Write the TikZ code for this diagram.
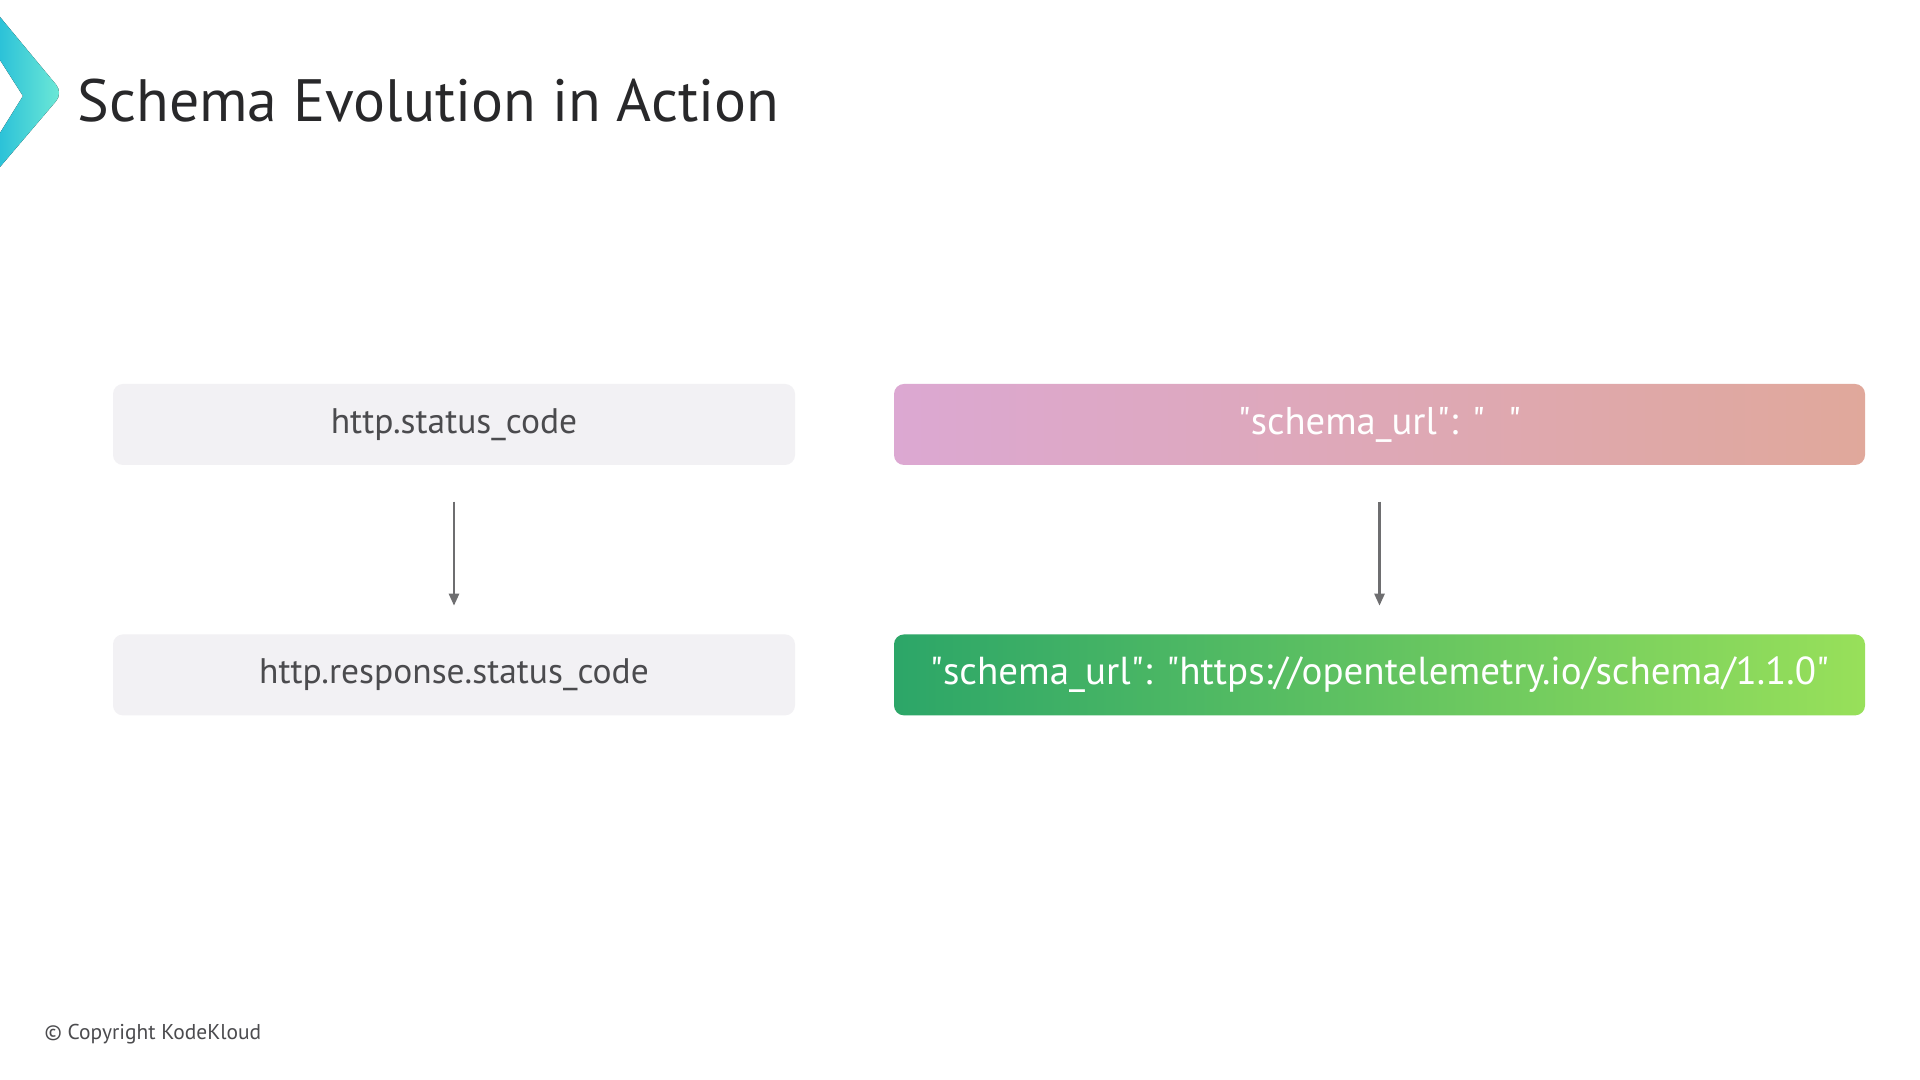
\documentclass[tikz,border=0pt]{standalone}
\usepackage{fontspec}
\setmainfont{PT Sans}
\usetikzlibrary{arrows.meta,positioning}
\definecolor{cBox}{RGB}{242,241,244}
\definecolor{cText}{RGB}{75,75,78}
\definecolor{cTitle}{RGB}{40,40,42}
\definecolor{cPinkL}{RGB}{220,168,210}
\definecolor{cPinkR}{RGB}{224,168,155}
\definecolor{cGreenL}{RGB}{44,166,104}
\definecolor{cGreenR}{RGB}{152,224,90}
\definecolor{cTealL}{RGB}{44,194,216}
\definecolor{cTealR}{RGB}{112,234,214}
\definecolor{cArrow}{RGB}{110,110,112}
\newcommand{\dq}{\XeTeXglyph\XeTeXcharglyph"22\relax}
\tikzset{
  basebox/.style={rectangle,rounded corners=0.1cm,align=center,
                  minimum height=0.81cm,font=\fontsize{10.1}{12}\selectfont},
  graynode/.style={basebox,fill=cBox,text=cText,minimum width=6.82cm},
  pinknode/.style={basebox,left color=cPinkL,right color=cPinkR,text=white,
                   minimum width=9.71cm,font=\fontsize{11}{13}\selectfont},
  greennode/.style={basebox,left color=cGreenL,right color=cGreenR,text=white,
                    minimum width=9.71cm,font=\fontsize{11.1}{13}\selectfont},
  arr/.style={-{Triangle[length=1.2mm,width=1mm]},line width=0.7pt,color=cArrow,
              shorten <=0.36cm,shorten >=0.28cm}
}

\begin{document}
\begin{tikzpicture}

  \fill[white] (0,0) rectangle (19.2,10.8);
  \useasboundingbox (0,0) rectangle (19.2,10.8);

  % title bar
  \fill[left color=cTealL,right color=cTealR]
      (0,10.63) [rounded corners=3pt] -- (0.63,9.87) [sharp corners] -- (0,9.13)
      -- (0,9.47) -- (0.23,9.84) -- (0,10.20) -- cycle;
  \node[anchor=base west,inner sep=0,text=cTitle,font=\fontsize{17}{20}\selectfont]
      (title) at (0.77,9.58) {Schema Evolution in Action};

  \node[graynode] (oldattr) at (4.54,6.555) {http.status\_code};
  \node[graynode,below=1.68cm of oldattr] (newattr) {http.response.status\_code};

  \node[pinknode] (oldurl) at (13.795,6.555) {\dq schema\_url\dq: \dq\hspace{0.6em}\dq};
  \node[greennode,below=1.68cm of oldurl] (newurl)
      {\dq schema\_url\dq: \dq https://opentelemetry.io/schema/1.1.0\dq};

  \draw[arr] (oldattr) -- (newattr);
  \draw[arr] (oldurl) -- (newurl);

  \node[anchor=base west,inner sep=0,text=cText,font=\fontsize{6.1}{7}\selectfont]
      (copy) at (0.44,0.40) {© Copyright KodeKloud};

\end{tikzpicture}
\end{document}
